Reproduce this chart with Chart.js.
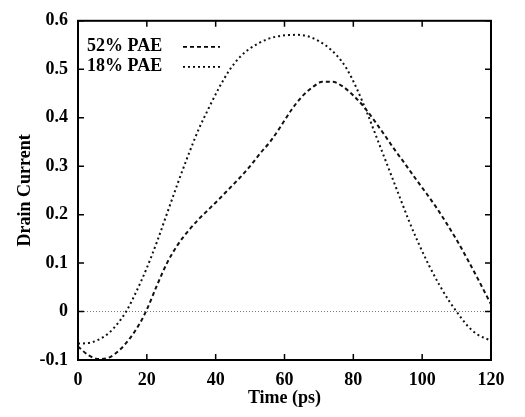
<!DOCTYPE html>
<html>
<head>
<meta charset="utf-8">
<script src="https://cdn.jsdelivr.net/npm/chart.js@4"></script>
<style>
  html, body { margin: 0; padding: 0; background: #fff; }
</style>
</head>
<body>
<canvas id="drainChart" width="525" height="417"></canvas>
<script>
// values
const pae52Time = [0, 3, 6, 9, 12, 15, 18, 20, 23, 26, 29, 32, 35, 38, 41, 44, 47, 50, 53, 56, 59, 62, 65, 68, 71, 74, 77, 80, 83, 86, 89, 92, 95, 98, 101, 104, 107, 110, 113, 116, 120];
const pae52Current = [-0.072, -0.09, -0.098, -0.095, -0.08, -0.056, -0.024, 0.004, 0.055, 0.102, 0.138, 0.166, 0.19, 0.211, 0.232, 0.254, 0.276, 0.3, 0.327, 0.352, 0.383, 0.416, 0.443, 0.462, 0.474, 0.474, 0.464, 0.446, 0.423, 0.395, 0.365, 0.334, 0.305, 0.275, 0.246, 0.216, 0.183, 0.148, 0.11, 0.07, 0.015];

const pae18Time = [0, 3, 6, 9, 11.5, 14, 17, 20, 23, 26, 29, 32, 35, 38, 41, 44, 47, 50, 55, 60, 64, 68, 72, 75, 78, 81, 84, 87, 90, 93, 96, 99, 102, 105, 108, 110, 113, 116, 120];
const pae18Current = [-0.066, -0.065, -0.058, -0.044, -0.025, 0, 0.042, 0.09, 0.145, 0.205, 0.265, 0.322, 0.375, 0.42, 0.462, 0.498, 0.525, 0.543, 0.562, 0.57, 0.571, 0.565, 0.549, 0.53, 0.502, 0.46, 0.41, 0.355, 0.3, 0.245, 0.19, 0.14, 0.095, 0.055, 0.02, 0, -0.028, -0.047, -0.06];

const zeroTime = [0, 120];
const zeroCurrent = [0, 0];

const seriesLabels = ['52% PAE', '18% PAE'];
const xTitle = 'Time (ps)';
const yTitle = 'Drain Current';

const FONT = { family: '"Liberation Serif", "Times New Roman", serif', size: 18, weight: 'bold' };

const toPoints = (xs, ys) => xs.map((x, i) => ({ x: x, y: ys[i] }));

// box + inward ticks on all four sides
const frame = {
  id: 'frame',
  afterDatasetsDraw(chart) {
    const ctx = chart.ctx;
    const a = chart.chartArea;
    const xs = chart.scales.x, ys = chart.scales.y;
    const len = 6;
    ctx.save();
    ctx.strokeStyle = '#000';
    ctx.lineWidth = 1.5;
    ctx.beginPath();
    xs.ticks.forEach(t => {
      const px = xs.getPixelForValue(t.value);
      ctx.moveTo(px, a.bottom); ctx.lineTo(px, a.bottom - len);
      ctx.moveTo(px, a.top); ctx.lineTo(px, a.top + len);
    });
    ys.ticks.forEach(t => {
      const py = ys.getPixelForValue(t.value);
      ctx.moveTo(a.left, py); ctx.lineTo(a.left + len, py);
      ctx.moveTo(a.right, py); ctx.lineTo(a.right - len, py);
    });
    ctx.stroke();
    ctx.lineWidth = 2;
    ctx.strokeRect(a.left, a.top, a.right - a.left, a.bottom - a.top);
    ctx.restore();
  }
};

// legend inside top-left: text then line sample
const insideLegend = {
  id: 'insideLegend',
  afterDraw(chart) {
    const ctx = chart.ctx;
    const a = chart.chartArea;
    ctx.save();
    ctx.font = 'bold 18px "Liberation Serif"';
    ctx.fillStyle = '#000';
    ctx.textBaseline = 'middle';
    [0, 1].forEach(i => {
      const ds = chart.data.datasets[i];
      const y = a.top + 26 + i * 20;
      ctx.fillText(ds.label, a.left + 9, y);
      ctx.strokeStyle = '#000';
      ctx.lineWidth = 1.8;
      ctx.setLineDash(ds.borderDash);
      ctx.beginPath();
      ctx.moveTo(a.left + 105, y);
      ctx.lineTo(a.left + 142, y);
      ctx.stroke();
    });
    ctx.restore();
  }
};

new Chart(document.getElementById('drainChart'), {
  type: 'line',
  data: {
    datasets: [
      {
        label: seriesLabels[0],
        data: toPoints(pae52Time, pae52Current),
        borderColor: '#111',
        borderWidth: 2,
        borderDash: [4, 3],
        pointRadius: 0,
        cubicInterpolationMode: 'monotone',
        fill: false
      },
      {
        label: seriesLabels[1],
        data: toPoints(pae18Time, pae18Current),
        borderColor: '#111',
        borderWidth: 2,
        borderDash: [2, 3],
        pointRadius: 0,
        cubicInterpolationMode: 'monotone',
        fill: false
      },
      {
        label: 'zero',
        data: toPoints(zeroTime, zeroCurrent),
        borderColor: '#777',
        borderWidth: 1,
        borderDash: [1, 2],
        pointRadius: 0,
        fill: false
      }
    ]
  },
  options: {
    responsive: false,
    animation: false,
    layout: { padding: { top: 16, right: 34, bottom: 0, left: 0 } },
    plugins: {
      legend: { display: false },
      tooltip: { enabled: false }
    },
    scales: {
      x: {
        type: 'linear',
        min: 0,
        max: 120,
        ticks: {
          stepSize: 20,
          color: '#000',
          font: FONT,
          padding: 10,
          maxRotation: 0
        },
        grid: { display: false, drawTicks: false },
        border: { display: false },
        title: { display: true, text: xTitle, color: '#000', font: FONT, padding: { bottom: 8 } },
        afterFit(scale) { scale.height = 57; }
      },
      y: {
        min: -0.1,
        max: 0.6,
        ticks: {
          stepSize: 0.1,
          color: '#000',
          font: FONT,
          padding: 10,
          callback: v => (Math.abs(v) < 1e-9 ? '0' : v.toFixed(1))
        },
        grid: { display: false, drawTicks: false },
        border: { display: false },
        title: { display: true, text: yTitle, color: '#000', font: FONT, padding: { top: 15 } },
        afterFit(scale) { scale.width = 78; }
      }
    }
  },
  plugins: [frame, insideLegend]
});
</script>
</body>
</html>
